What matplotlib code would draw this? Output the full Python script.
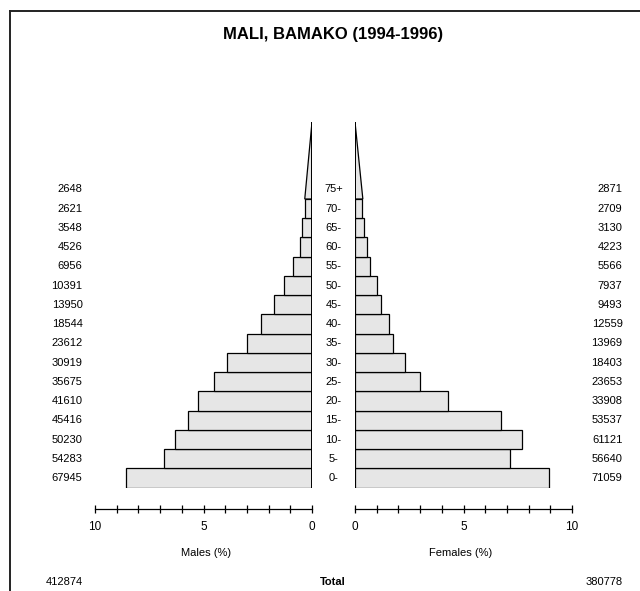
import matplotlib
matplotlib.use("Agg")
import matplotlib.pyplot as plt
from matplotlib.lines import Line2D
from matplotlib.ticker import MultipleLocator, FixedLocator

plt.rcParams['font.family'] = ['Liberation Sans', 'DejaVu Sans']

title = "MALI, BAMAKO (1994-1996)"
age_labels = ["0-", "5-", "10-", "15-", "20-", "25-", "30-", "35-",
              "40-", "45-", "50-", "55-", "60-", "65-", "70-", "75+"]
age_start = [0, 5, 10, 15, 20, 25, 30, 35, 40, 45, 50, 55, 60, 65, 70, 75]
males = [67945, 54283, 50230, 45416, 41610, 35675, 30919, 23612,
         18544, 13950, 10391, 6956, 4526, 3548, 2621, 2648]
females = [71059, 56640, 61121, 53537, 33908, 23653, 18403, 13969,
           12559, 9493, 7937, 5566, 4223, 3130, 2709, 2871]
total_males = 412874
total_females = 380778
open_top = 95  # apex of the open-ended last group

W, H = 640, 591
fig = plt.figure(figsize=(W / 100, H / 100), dpi=100)


def fx(x):
    return x / W


def fy(y):
    return 1 - y / H


grand = total_males + total_females
pm = [v / grand * 100 for v in males]
pf = [v / grand * 100 for v in females]

ax_top, ax_bot = 122, 487.7
axm = fig.add_axes([fx(95), fy(ax_bot), 217 / W, (ax_bot - ax_top) / H])
axf = fig.add_axes([fx(355), fy(ax_bot), 217 / W, (ax_bot - ax_top) / H])

fill = '#e6e6e6'
for ax, vals in ((axm, pm), (axf, pf)):
    mids = [a + 2.5 for a in age_start[:-1]]
    ax.barh(mids, vals[:-1], height=5, left=0, color=fill,
            edgecolor='black', linewidth=0.9)
    last = vals[-1]
    ax.fill([0, last, 0], [age_start[-1], age_start[-1], open_top],
            facecolor=fill, edgecolor='black', linewidth=0.9)
    ax.plot([0, 0], [0, open_top], color='black', linewidth=1.4,
            solid_capstyle='butt')
    ax.set_ylim(0, open_top)
    ax.set_yticks([])
    for s in ('top', 'left', 'right'):
        ax.spines[s].set_visible(False)
    ax.spines['bottom'].set_position(('outward', 15.3))
    ax.spines['bottom'].set_bounds(0, 10)
    ax.spines['bottom'].set_linewidth(0.9)
    ax.xaxis.set_major_locator(FixedLocator([0, 5, 10]))
    ax.xaxis.set_minor_locator(MultipleLocator(1))
    ax.tick_params(axis='x', which='both', direction='inout', length=6,
                   width=0.9, labelsize=8.5, pad=6)
    ax.patch.set_visible(False)

axm.set_xlim(10, 0)
axf.set_xlim(0, 10)
axm.set_xticklabels(['0', '5', '10'])
axf.set_xticklabels(['0', '5', '10'])

# frame
fig.add_artist(Line2D([fx(10), fx(10)], [0, fy(11)], color='#222222', linewidth=1.4))
fig.add_artist(Line2D([fx(10), 1], [fy(11), fy(11)], color='#222222', linewidth=1.4))

fig.text(fx(333), fy(35), title, ha='center', va='center',
         fontsize=12, fontweight='bold')

row_h = (ax_bot - ax_top) / open_top * 5
for i, lab in enumerate(age_labels):
    y = ax_bot - row_h * (i + 0.5)
    fig.text(fx(333.5), fy(y), lab, ha='center', va='center', fontsize=8)
    fig.text(fx(82.5), fy(y), str(males[i]), ha='right', va='center', fontsize=8)
    fig.text(fx(622.5), fy(y), str(females[i]), ha='right', va='center', fontsize=8)

fig.text(fx(206), fy(553), "Males (%)", ha='center', va='center', fontsize=8)
fig.text(fx(461), fy(553), "Females (%)", ha='center', va='center', fontsize=8)
fig.text(fx(82.5), fy(582), str(total_males), ha='right', va='center', fontsize=8)
fig.text(fx(622.5), fy(582), str(total_females), ha='right', va='center', fontsize=8)
fig.text(fx(333), fy(582), "Total", ha='center', va='center', fontsize=8,
         fontweight='bold')

fig.savefig("out.png", dpi=100)
